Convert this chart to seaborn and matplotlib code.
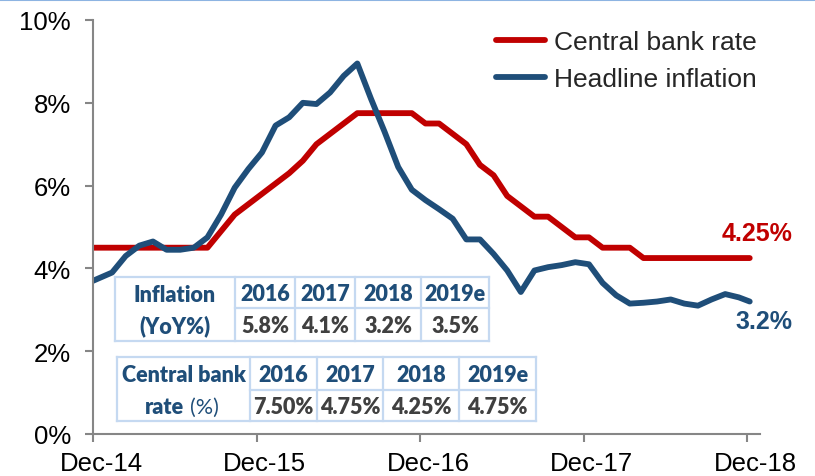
import numpy as np
import pandas as pd
import matplotlib
matplotlib.use("Agg")
import matplotlib.pyplot as plt
import seaborn as sns
from matplotlib.lines import Line2D
from matplotlib.transforms import ScaledTranslation

# ---------------- data ----------------
tick_labels = ["Dec-14", "Dec-15", "Dec-16", "Dec-17", "Dec-18"]
tick_months = [0, 12, 24, 36, 48]
# observation positions, in months after Dec-14
months = np.r_[0, np.arange(1, 48) + 0.4, 48.2]

central_bank_rate = [4.5, 4.5, 4.5, 4.5, 4.5, 4.5, 4.5, 4.5, 4.5, 4.9,
                     5.3, 5.55, 5.8, 6.05, 6.3, 6.6, 7.0, 7.25, 7.5, 7.75,
                     7.75, 7.75, 7.75, 7.75, 7.5, 7.5, 7.25, 7.0, 6.5, 6.25,
                     5.75, 5.5, 5.25, 5.25, 5.0, 4.75, 4.75, 4.5, 4.5, 4.5,
                     4.25, 4.25, 4.25, 4.25, 4.25, 4.25, 4.25, 4.25, 4.25]
headline_inflation = [3.7, 3.9, 4.3, 4.55, 4.65, 4.45, 4.45, 4.5, 4.75, 5.3,
                      5.95, 6.4, 6.8, 7.45, 7.65, 8.0, 7.97, 8.25, 8.65, 8.95,
                      8.1, 7.3, 6.45, 5.9, 5.65, 5.43, 5.2, 4.7, 4.7, 4.35,
                      3.95, 3.43, 3.95, 4.03, 4.08, 4.15, 4.1, 3.65, 3.35, 3.15,
                      3.17, 3.2, 3.25, 3.15, 3.1, 3.25, 3.38, 3.3, 3.2]
series_names = ["Central bank rate", "Headline inflation"]

table_years = ["2016", "2017", "2018", "2019e"]
inflation_table = ["5.8%", "4.1%", "3.2%", "3.5%"]
rate_table = ["7.50%", "4.75%", "4.25%", "4.75%"]

RED = "#C00000"
BLUE = "#1F4E79"
GRAY = "#868686"
TXT_GRAY = "#404040"
BORDER = "#C5D9F1"

# ---------------- figure ----------------
sns.set_theme(style="white")
plt.rcParams["font.family"] = ["Liberation Sans", "DejaVu Sans"]

W, H = 815, 477
fig = plt.figure(figsize=(W / 100, H / 100), dpi=100)
ax = fig.add_axes([93 / W, 1 - 435 / H, (760 - 93) / W, (435 - 21) / H])

df = pd.DataFrame({
    "month": np.r_[months, months],
    "value": central_bank_rate + headline_inflation,
    "series": [series_names[0]] * len(months) + [series_names[1]] * len(months),
})
sns.lineplot(data=df, x="month", y="value", hue="series",
             palette={series_names[0]: RED, series_names[1]: BLUE},
             hue_order=series_names, linewidth=4.2, sort=False, legend=False,
             ax=ax, solid_capstyle="round", solid_joinstyle="round")

ax.set_xlim(0, (760 - 93) / 13.625)
ax.set_ylim(0, 10)
ax.set_xlabel("")
ax.set_ylabel("")
ax.set_yticks(range(0, 11, 2))
ax.set_yticklabels([f"{v}%" for v in range(0, 11, 2)])
ax.set_xticks(tick_months)
ax.set_xticklabels(tick_labels)
for s in ["top", "right"]:
    ax.spines[s].set_visible(False)
for s in ["left", "bottom"]:
    ax.spines[s].set_color(GRAY)
    ax.spines[s].set_linewidth(1.5)
ax.tick_params(axis="both", which="major", bottom=True, left=True,
               direction="out", length=6, width=1.5, color=GRAY,
               labelsize=18.5, labelcolor="black")
ax.tick_params(axis="y", pad=10)
ax.tick_params(axis="x", pad=6.5)
off = ScaledTranslation(8 / 100, 0, fig.dpi_scale_trans)
for lab in ax.get_xticklabels():
    lab.set_transform(lab.get_transform() + off)

# legend
handles = [Line2D([], [], color=RED, lw=4.2, solid_capstyle="round"),
           Line2D([], [], color=BLUE, lw=4.2, solid_capstyle="round")]
ax.legend(handles, series_names, loc="upper left",
          bbox_to_anchor=(496 / W, 1 - 31 / H), bbox_transform=fig.transFigure,
          frameon=False, fontsize=19, handlelength=1.84, handletextpad=0.34,
          borderpad=0, borderaxespad=0, labelspacing=0.5)

# end labels
ax.text((792 - 93) / 13.625, (435 - 234) / 41.4, f"{central_bank_rate[-1]:.2f}%",
        ha="right", va="center", color=RED, fontsize=18, fontweight="bold",
        clip_on=False)
ax.text((792 - 93) / 13.625, (435 - 322) / 41.4, f"{headline_inflation[-1]:.1f}%",
        ha="right", va="center", color=BLUE, fontsize=18, fontweight="bold",
        clip_on=False)

# ---------------- overlay (tables, frame line) ----------------
ov = fig.add_axes([0, 0, 1, 1], zorder=5)
ov.set_xlim(0, W)
ov.set_ylim(H, 0)
ov.axis("off")
ov.patch.set_visible(False)

ov.plot([0, W], [0.8, 0.8], color="#8DB4E2", lw=1.5)

TFONT = ["Lato", "DejaVu Sans"]
TSIZE = 15.5
TW = "heavy"


def draw_table(cols, rows, values):
    x0, x1 = cols[0], cols[-1]
    y0, ym, y1 = rows
    ov.fill([x0, x1, x1, x0], [y0, y0, y1, y1], color="white", zorder=1)
    kw = dict(color=BORDER, lw=1.6, zorder=2, solid_capstyle="projecting")
    ov.plot([x0, x1], [y0, y0], **kw)
    ov.plot([x0, x1], [y1, y1], **kw)
    ov.plot([cols[1], x1], [ym, ym], **kw)
    for c in cols:
        ov.plot([c, c], [y0, y1], **kw)
    for i in range(4):
        cx = (cols[i + 1] + cols[i + 2]) / 2
        ov.text(cx, (y0 + ym) / 2 + 1.5, table_years[i], ha="center", va="center",
                color=BLUE, fontsize=TSIZE, fontweight=TW, family=TFONT, zorder=3)
        ov.text(cx, (ym + y1) / 2 + 1, values[i], ha="center", va="center",
                color=TXT_GRAY, fontsize=TSIZE, fontweight=TW, family=TFONT, zorder=3)


t1_cols = [115, 235, 295, 355, 421, 489]
t1_rows = [278, 309, 342]
draw_table(t1_cols, t1_rows, inflation_table)
c0 = (t1_cols[0] + t1_cols[1]) / 2
ov.text(c0, 295.5, "Inflation", ha="center", va="center", color=BLUE,
        fontsize=TSIZE, fontweight=TW, family=TFONT, zorder=3)
ov.text(c0, 326.5, "(YoY%)", ha="center", va="center", color=BLUE,
        fontsize=TSIZE, fontweight=TW, family=TFONT, zorder=3)

t2_cols = [117, 250, 317, 383, 459, 536]
t2_rows = [358, 391, 422]
draw_table(t2_cols, t2_rows, rate_table)
c0 = (t2_cols[0] + t2_cols[1]) / 2
ov.text(c0, 376, "Central bank", ha="center", va="center", color=BLUE,
        fontsize=TSIZE, fontweight=TW, family=TFONT, zorder=3)
ov.text(184, 407.5, "rate", ha="right", va="center", color=BLUE,
        fontsize=TSIZE, fontweight=TW, family=TFONT, zorder=3)
ov.text(190, 407.5, "(%)", ha="left", va="center", color=BLUE,
        fontsize=TSIZE, family=TFONT, zorder=3)

fig.savefig("out.png", dpi=100)
